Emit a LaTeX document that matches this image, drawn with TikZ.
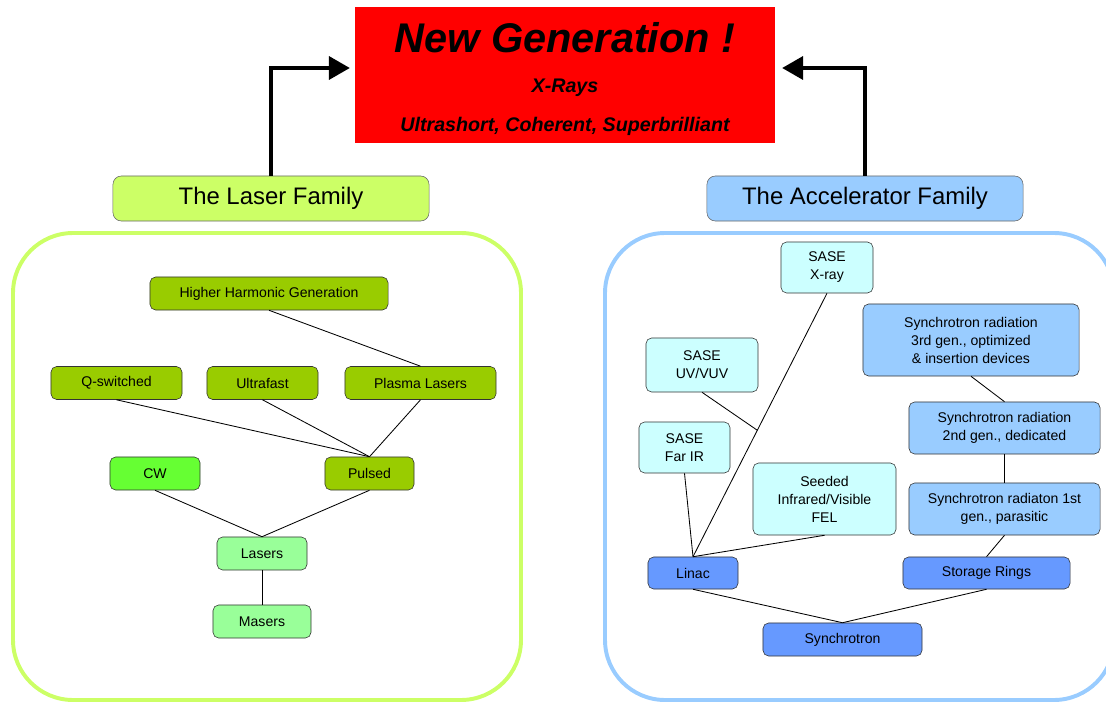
\documentclass[tikz,border=0pt]{standalone}
\usepackage{fontspec}
\setmainfont{Liberation Sans}
\usetikzlibrary{positioning,arrows.meta,calc}
\definecolor{laserlime}{HTML}{CCFF66}
\definecolor{laserolive}{HTML}{99CC00}
\definecolor{cwgreen}{HTML}{66FF33}
\definecolor{mintgreen}{HTML}{99FF99}
\definecolor{accblue}{HTML}{99CCFF}
\definecolor{saseblue}{HTML}{CCFFFF}
\definecolor{ringblue}{HTML}{6699FF}
\tikzset{
box/.style={draw=black!80, rounded corners=4pt, align=center, inner sep=1pt,
  font=\fontsize{10}{12.8}\selectfont},
lbox/.style n args={2}{box, fill=#1, minimum width=#2cm, minimum height=0.825cm},
rbox/.style n args={3}{box, fill=#1, minimum width=#2cm, minimum height=#3cm},
famlabel/.style={draw=black!60, rounded corners=6pt, minimum width=7.9cm,
  minimum height=1.125cm, font=\fontsize{17}{20}\selectfont},
family/.style={line width=2.8pt, rounded corners=1.5cm},
link/.style={draw=black, line width=0.6pt},
bigarrow/.style={line width=3.5pt, -{Triangle[length=15pt,width=16pt]}}
}

\begin{document}
\begin{tikzpicture}[x=0.025cm,y=-0.025cm]
\useasboundingbox (0,0) rectangle (1106,702);
\clip (0,0) rectangle (1106,702);

% top
\node[fill=red, minimum width=10.5cm, minimum height=3.4cm] (newgen) at (565,75) {};
\node[font=\fontsize{29.5}{34}\selectfont\bfseries\itshape] (title) at (565,38) {New Generation !};
\node[font=\fontsize{14}{17}\selectfont\bfseries\itshape] (xrays) at (565,88) {X-Rays};
\node[font=\fontsize{14}{17}\selectfont\bfseries\itshape] (props) at (565,126) {Ultrashort, Coherent, Superbrilliant};

\node[famlabel, fill=laserlime] (laserfam) at (271,198.5) {The Laser Family};
\node[famlabel, fill=accblue] (accfam) at (865,198.5) {The Accelerator Family};
\coordinate (arrL) at (350,68);
\coordinate (arrR) at (782,68);
\draw[bigarrow] (laserfam.north) |- (arrL);
\draw[bigarrow] (accfam.north) |- (arrR);

% laser family
\draw[family, draw=laserlime] (13,233) rectangle (521,700);
\node[lbox={laserolive}{5.95}] (hhg) at (269,293.5) {Higher Harmonic Generation};
\node[lbox={laserolive}{3.275}] (qsw) at (116.5,383) {Q-switched};
\node[lbox={laserolive}{2.775}] (ufast) at (262.5,383) {Ultrafast};
\node[lbox={laserolive}{3.775}] (plasma) at (420.5,383) {Plasma Lasers};
\node[lbox={cwgreen}{2.25}] (cw) at (155,473.5) {CW};
\node[lbox={laserolive}{2.225}] (pulsed) at (369.5,473.5) {Pulsed};
\node[lbox={mintgreen}{2.25}] (lasers) at (262,553.5) {Lasers};
\node[lbox={mintgreen}{2.45}] (masers) at (262,621.5) {Masers};
\draw[link] (hhg.south) -- (plasma.north);
\draw[link] (qsw.south) -- (pulsed.north);
\draw[link] (ufast.south) -- (pulsed.north);
\draw[link] (plasma.south) -- (pulsed.north);
\draw[link] (cw.south) -- (lasers.north);
\draw[link] (pulsed.south) -- (lasers.north);
\draw[link] (lasers.south) -- (masers.north);

% accelerator family
\draw[family, draw=accblue] (605,233) rectangle (1114,700);
\node[rbox={saseblue}{2.3}{1.275}] (xray) at (827,267.5) {SASE\\X-ray};
\node[rbox={saseblue}{2.8}{1.35}] (uvvuv) at (702,365) {SASE\\UV/VUV};
\node[rbox={saseblue}{2.275}{1.275}] (farir) at (684.5,447.5) {SASE\\Far IR};
\node[rbox={saseblue}{3.575}{1.8}] (seeded) at (824.5,499) {Seeded\\Infrared/Visible\\FEL};
\node[rbox={accblue}{5.4}{1.8}] (sr3) at (971,340) {Synchrotron radiation\\3rd gen., optimized\\\& insertion devices};
\node[rbox={accblue}{4.775}{1.3}] (sr2) at (1004.5,428) {Synchrotron radiation\\2nd gen., dedicated};
\node[rbox={accblue}{4.775}{1.3}] (sr1) at (1004.5,509) {Synchrotron radiaton 1st\\gen., parasitic};
\node[rbox={ringblue}{2.25}{0.8}] (linac) at (693,573) {Linac};
\node[rbox={ringblue}{4.175}{0.8}] (storage) at (986.5,573) {Storage Rings};
\node[rbox={ringblue}{3.975}{0.825}] (synch) at (842.5,639.5) {Synchrotron};
\coordinate (xjoin) at ($(xray.south)!0.52!(linac.north)$);
\draw[link] (xray.south) -- (linac.north);
\draw[link] (uvvuv.south) -- (xjoin);
\draw[link] (farir.south) -- (linac.north);
\draw[link] (seeded.south) -- (linac.north);
\draw[link] (sr3.south) -- (sr2.north);
\draw[link] (sr2.south) -- (sr1.north);
\draw[link] (sr1.south) -- (storage.north);
\draw[link] (linac.south) -- (synch.north);
\draw[link] (storage.south) -- (synch.north);
\end{tikzpicture}
\end{document}
